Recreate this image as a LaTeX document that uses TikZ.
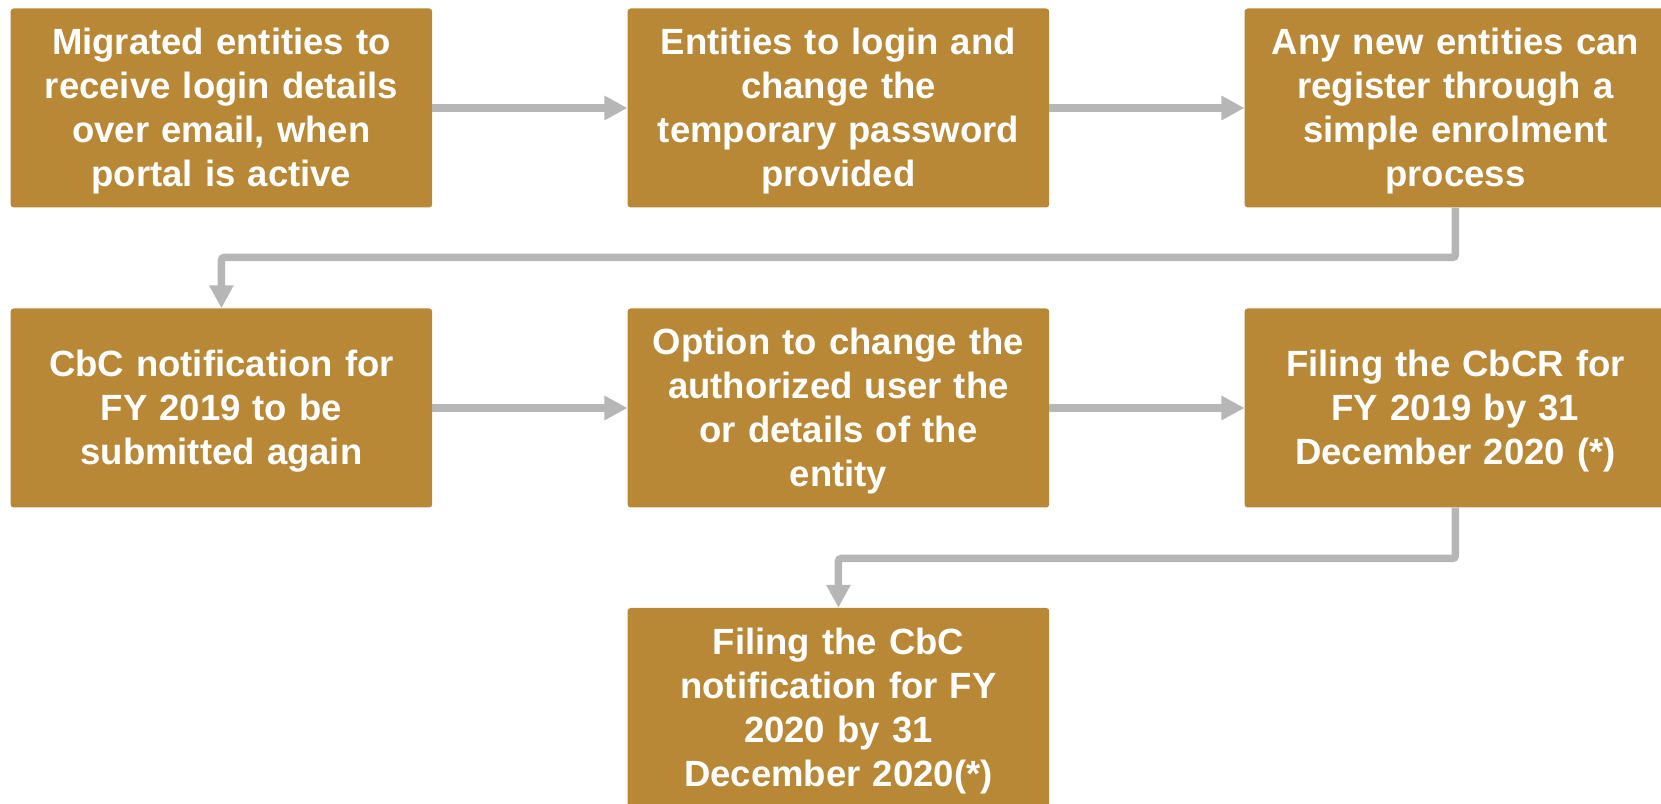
\documentclass[tikz,border=0pt]{standalone}
\usepackage{fontspec}
\setmainfont{Liberation Sans}
\usetikzlibrary{arrows.meta}
\definecolor{boxgold}{RGB}{184,136,54}
\definecolor{linkgray}{RGB}{182,182,182}
% invisible rule spanning one full line box (ascent 34.5pt, descent 9.5pt)
\newcommand\linestrut{\rule[-9.5pt]{0pt}{44pt}}
\tikzset{
  stepbox/.style={fill=boxgold, draw=none, rounded corners=3pt,
    minimum width=421.5pt, minimum height=199pt, inner sep=0pt,
    text=white, align=center, text width=410pt,
    font=\fontsize{36.5}{44}\selectfont\bfseries,
    execute at begin node=\linestrut, execute at end node=\linestrut},
  conn/.style={draw=linkgray, line width=7.5pt,
    -{Triangle[length=23pt,width=23pt]}},
  elbow/.style={conn, rounded corners=3pt}
}
\begin{document}
\begin{tikzpicture}[x=1pt,y=1pt]
\useasboundingbox (0,0) rectangle (1661,803);
\clip (0,0) rectangle (1661,803);
\fill[white] (0,0) rectangle (1661,803);

% first row
\node[stepbox] (b1) at (221.4,695) {Migrated entities to\\receive login details\\over email, when\\portal is active};
\node[stepbox] (b2) at (838.4,695) {Entities to login and\\change the\\temporary password\\provided};
\node[stepbox] (b3) at (1455.4,695) {Any new entities can\\register through a\\simple enrolment\\process};

% second row
\node[stepbox] (b4) at (221.4,395) {CbC notification for\\FY 2019 to be\\submitted again};
\node[stepbox] (b5) at (838.4,395) {Option to change the\\authorized user the\\or details of the\\entity};
\node[stepbox] (b6) at (1455.4,395) {Filing the CbCR for\\FY 2019 by 31\\December 2020 (*)};

% last step
\node[stepbox] (b7) at (838.4,95.5) {Filing the CbC\\notification for FY\\2020 by 31\\December 2020(*)};

% bends of the row-to-row links
\coordinate (k1) at (221.4,545.5);
\coordinate (k2) at (838.4,244.5);

% connectors
\draw[conn] (b1.east) -- (b2.west);
\draw[conn] (b2.east) -- (b3.west);
\draw[elbow] (b3.south) |- (k1) -- (b4.north);
\draw[conn] (b4.east) -- (b5.west);
\draw[conn] (b5.east) -- (b6.west);
\draw[elbow] (b6.south) |- (k2) -- (b7.north);
\end{tikzpicture}
\end{document}
